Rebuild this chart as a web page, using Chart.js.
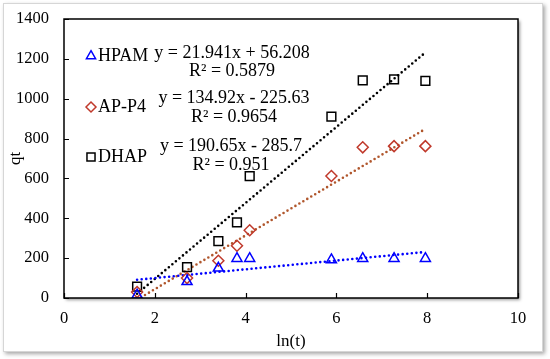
<!DOCTYPE html>
<html>
<head>
<meta charset="utf-8">
<script src="https://cdn.jsdelivr.net/npm/chart.js@4/dist/chart.umd.min.js"></script>
<style>
  html, body { margin: 0; padding: 0; background: #fff; }
  #wrap { width: 550px; height: 359px; position: relative; }
</style>
</head>
<body>
<div id="wrap"><canvas id="kinChart"></canvas></div>
<script>
// ln(t) values and qt readings per polymer
const lnT = [1.61, 2.71, 3.40, 3.81, 4.09, 5.89, 6.58, 7.27, 7.96];
const hpam = [15, 82, 150, 198, 198, 192, 198, 198, 198];
const apP4 = [30, 100, 187, 262, 340, 612, 756, 762, 762];
const dhap = [57, 155, 285, 380, 612, 910, 1092, 1097, 1090];

// trendline end points (x from first to last ln(t))
const trendX = [1.61, 7.96];
const hpamTrend = [91.5, 230.9];
const apP4Trend = [-8.4, 848.3];
const dhapTrend = [21.3, 1231.9];

const seriesNames = ["HPAM", "AP-P4", "DHAP"];
const equations = [
  ["y = 21.941x + 56.208", "R² = 0.5879"],
  ["y = 134.92x - 225.63", "R² = 0.9654"],
  ["y = 190.65x - 285.7", "R² = 0.951"]
];

const xTicks = [0, 2, 4, 6, 8, 10];
const yTicks = [0, 200, 400, 600, 800, 1000, 1200, 1400];

const blue = '#0000ff';
const red = '#c0392b';
const brown = '#b0562c';
const black = '#000000';
const serif = "'Liberation Serif', 'Times New Roman', serif";

const pts = (ys) => lnT.map((x, i) => ({ x: x, y: ys[i] }));
const line = (ys) => trendX.map((x, i) => ({ x: x, y: ys[i] }));

function markerSet(label, data, style, color, radius) {
  return {
    type: 'scatter', label: label, data: data,
    pointStyle: style, pointRadius: radius, pointHoverRadius: radius,
    pointBorderColor: color, pointBackgroundColor: 'rgba(0,0,0,0)',
    pointBorderWidth: 1.5, showLine: false
  };
}
function trendSet(data, color) {
  return {
    type: 'line', label: 'trend', data: data,
    borderColor: color, borderWidth: 2.6, borderDash: [0, 4.6],
    borderCapStyle: 'round', pointRadius: 0, fill: false, tension: 0
  };
}

// frame, outer box and inside tick marks
const framePlugin = {
  id: 'frame',
  beforeDraw(chart) {
    const ctx = chart.ctx;
    const a = chart.chartArea;
    ctx.save();
    ctx.shadowColor = 'rgba(0,0,0,0.35)';
    ctx.shadowOffsetX = 2; ctx.shadowOffsetY = 2; ctx.shadowBlur = 4;
    ctx.fillStyle = '#fff';
    ctx.fillRect(3, 3, 540, 349);
    ctx.restore();
    ctx.save();
    ctx.strokeStyle = '#d6d6d6'; ctx.lineWidth = 1;
    ctx.strokeRect(3.5, 3.5, 539, 348);
    ctx.shadowColor = 'rgba(0,0,0,0.4)';
    ctx.shadowOffsetX = 2; ctx.shadowOffsetY = 2; ctx.shadowBlur = 3;
    ctx.fillStyle = '#fff';
    ctx.fillRect(a.left, a.top, a.right - a.left, a.bottom - a.top);
    ctx.restore();
  },
  afterDatasetsDraw(chart) {
    const ctx = chart.ctx;
    const a = chart.chartArea;
    const xs = chart.scales.x, ys = chart.scales.y;
    ctx.save();
    ctx.strokeStyle = '#000'; ctx.lineWidth = 1.5;
    ctx.strokeRect(a.left, a.top, a.right - a.left, a.bottom - a.top);
    ctx.lineWidth = 1.2;
    ctx.beginPath();
    xTicks.forEach(v => {
      const px = Math.round(xs.getPixelForValue(v)) + 0.5;
      ctx.moveTo(px, a.bottom); ctx.lineTo(px, a.bottom - 5);
    });
    yTicks.forEach(v => {
      const py = Math.round(ys.getPixelForValue(v)) + 0.5;
      ctx.moveTo(a.left, py); ctx.lineTo(a.left + 5, py);
    });
    ctx.stroke();
    ctx.restore();
  }
};

// legend + trendline equations inside the plot
const legendPlugin = {
  id: 'innerLegend',
  afterDraw(chart) {
    const ctx = chart.ctx;
    const legendY = [56, 107, 157];
    const eqX = [232, 234, 231];
    const eqY = [[53, 71], [98, 117], [146, 165]];
    const sets = [0, 1, 2].map(i => chart.data.datasets[i]);
    ctx.save();
    ctx.font = '18px ' + serif;
    ctx.textBaseline = 'middle';
    sets.forEach((ds, i) => {
      ctx.strokeStyle = ds.pointBorderColor;
      ctx.fillStyle = 'rgba(0,0,0,0)';
      ctx.lineWidth = ds.pointBorderWidth;
      Chart.helpers.drawPoint(ctx, {
        pointStyle: ds.pointStyle, radius: ds.pointRadius - 0.5,
        rotation: 0, borderWidth: ds.pointBorderWidth
      }, 91, legendY[i]);
      ctx.fillStyle = '#000';
      ctx.textAlign = 'left';
      ctx.fillText(seriesNames[i], 98, legendY[i]);
      ctx.textAlign = 'center';
      ctx.fillText(equations[i][0], eqX[i], eqY[i][0]);
      ctx.fillText(equations[i][1], eqX[i], eqY[i][1]);
    });
    ctx.restore();
  }
};

new Chart(document.getElementById('kinChart').getContext('2d'), {
  data: {
    datasets: [
      markerSet(seriesNames[0], pts(hpam), 'triangle', blue, 5.8),
      markerSet(seriesNames[1], pts(apP4), 'rectRot', red, 5.5),
      markerSet(seriesNames[2], pts(dhap), 'rect', black, 6.2),
      trendSet(line(hpamTrend), blue),
      trendSet(line(apP4Trend), brown),
      trendSet(line(dhapTrend), black)
    ]
  },
  options: {
    responsive: true,
    maintainAspectRatio: false,
    animation: false,
    events: [],
    layout: { padding: { left: 0, top: 19, right: 32, bottom: 0 } },
    scales: {
      x: {
        type: 'linear', min: 0, max: 10,
        afterBuildTicks: (s) => { s.ticks = xTicks.map(v => ({ value: v })); },
        afterFit: (s) => { s.height = 61; },
        grid: { display: false },
        border: { display: false },
        ticks: { color: '#000', padding: 3, font: { family: serif, size: 16.5 },
                 callback: (v) => String(v) },
        title: { display: true, text: 'ln(t)', color: '#000', padding: { top: 0, bottom: 7 },
                 font: { family: serif, size: 17 } }
      },
      y: {
        type: 'linear', min: 0, max: 1400,
        afterBuildTicks: (s) => { s.ticks = yTicks.map(v => ({ value: v })); },
        afterFit: (s) => { s.width = 64; },
        grid: { display: false },
        border: { display: false },
        ticks: { color: '#000', padding: 7, font: { family: serif, size: 16.5 },
                 callback: (v) => String(v) },
        title: { display: true, text: 'qt', color: '#000', padding: { top: 5, bottom: 0 },
                 font: { family: serif, size: 17 } }
      }
    },
    plugins: {
      legend: { display: false },
      tooltip: { enabled: false }
    }
  },
  plugins: [framePlugin, legendPlugin]
});
</script>
</body>
</html>
